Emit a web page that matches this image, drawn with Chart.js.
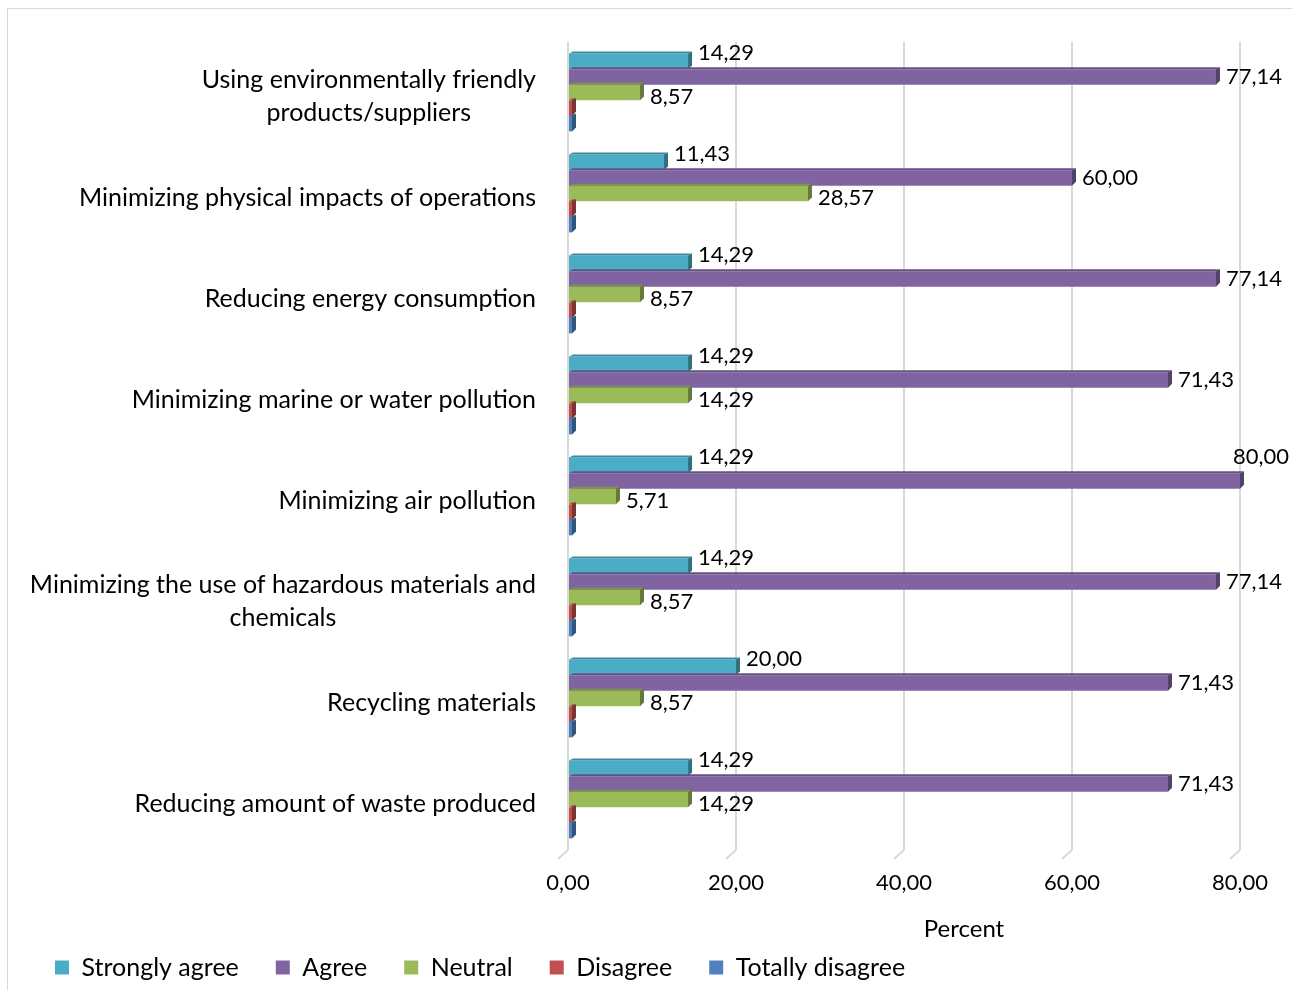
<!DOCTYPE html>
<html>
<head>
<meta charset="utf-8">
<script src="https://cdn.jsdelivr.net/npm/chart.js@4.4.0/dist/chart.umd.min.js"></script>
<style>
  body { margin: 0; background: #fff; }
  #wrap { width: 1292px; height: 990px; position: relative; }
</style>
</head>
<body>
<div id="wrap"><canvas id="chart"></canvas></div>
<script>
// Categories (top to bottom)
const categories = [
    ['Using environmentally friendly', 'products/suppliers'],
    'Minimizing physical impacts of operations',
    'Reducing energy consumption',
    'Minimizing marine or water pollution',
    'Minimizing air pollution',
    ['Minimizing the use of hazardous materials and', 'chemicals'],
    'Recycling materials',
    'Reducing amount of waste produced'
];

// Series values (percent)
const stronglyAgree = [14.29, 11.43, 14.29, 14.29, 14.29, 14.29, 20.00, 14.29];
const agree         = [77.14, 60.00, 77.14, 71.43, 80.00, 77.14, 71.43, 71.43];
const neutral       = [8.57, 28.57, 8.57, 14.29, 5.71, 8.57, 8.57, 14.29];
const disagree      = [0, 0, 0, 0, 0, 0, 0, 0];
const totallyDisagree = [0, 0, 0, 0, 0, 0, 0, 0];

const seriesNames = ['Strongly agree', 'Agree', 'Neutral', 'Disagree', 'Totally disagree'];
const seriesColors = ['#4BACC6', '#8064A2', '#9BBB59', '#C0504D', '#4F81BD'];

// x axis ticks
const xTicks = [0, 20, 40, 60, 80];

const FONT = 'Lato';

function fmt(v) {
    return v.toFixed(2).replace('.', ',');
}

function darker(hex, f) {
    let n = parseInt(hex.slice(1), 16);
    let r = Math.round(((n >> 16) & 255) * f);
    let g = Math.round(((n >> 8) & 255) * f);
    let b = Math.round((n & 255) * f);
    return 'rgb(' + r + ',' + g + ',' + b + ')';
}

// Frame, floor lines, fake 3D faces, value labels and category labels
const decorPlugin = {
    id: 'decor',
    beforeDraw(chart) {
        let ctx = chart.ctx;
        ctx.save();
        ctx.strokeStyle = '#d9d9d9';
        ctx.lineWidth = 1;
        ctx.strokeRect(7.5, 8.5, 1400, 1100);
        ctx.restore();
    },
    afterDatasetsDraw(chart) {
        let ctx = chart.ctx;
        let xScale = chart.scales.x;
        let yScale = chart.scales.y;
        let area = chart.chartArea;
        let d = 4;

        ctx.save();
        // little floor strokes under the gridlines
        ctx.strokeStyle = '#d9d9d9';
        ctx.lineWidth = 2;
        xTicks.forEach(t => {
            let px = xScale.getPixelForValue(t);
            ctx.beginPath();
            ctx.moveTo(px, area.bottom);
            ctx.lineTo(px - 10, area.bottom + 9);
            ctx.stroke();
        });

        // 3D faces on the bars
        chart.data.datasets.forEach((ds, di) => {
            let meta = chart.getDatasetMeta(di);
            meta.data.forEach(bar => {
                let top = bar.y - bar.height / 2;
                let bottom = bar.y + bar.height / 2;
                let x0 = bar.base;
                let x1 = bar.x;
                ctx.fillStyle = darker(seriesColors[di], 0.8);
                ctx.beginPath();
                ctx.moveTo(x0, top);
                ctx.lineTo(x0 + d, top - d / 2);
                ctx.lineTo(x1 + d, top - d / 2);
                ctx.lineTo(x1, top);
                ctx.closePath();
                ctx.fill();
                ctx.fillStyle = darker(seriesColors[di], 0.65);
                ctx.beginPath();
                ctx.moveTo(x1, top);
                ctx.lineTo(x1 + d, top - d / 2);
                ctx.lineTo(x1 + d, bottom - d);
                ctx.lineTo(x1, bottom);
                ctx.closePath();
                ctx.fill();
            });
        });

        // value labels
        ctx.fillStyle = '#000';
        ctx.font = '22px ' + FONT;
        ctx.textBaseline = 'middle';
        ctx.textAlign = 'left';
        let yOffsets = [-8, 0, 4];
        [0, 1, 2].forEach(di => {
            let meta = chart.getDatasetMeta(di);
            let vals = chart.data.datasets[di].data;
            meta.data.forEach((bar, i) => {
                let txt = fmt(vals[i]);
                let w = ctx.measureText(txt).width;
                let x = bar.x + 10;
                let y = bar.y + yOffsets[di];
                if (x + w > chart.width - 4) {
                    x = bar.x - 7;
                    y = bar.y - 24;
                }
                ctx.fillText(txt, x, y);
            });
        });

        // category labels, right aligned block, lines centred inside it
        ctx.font = '25px ' + FONT;
        ctx.textAlign = 'center';
        let right = area.left - 32;
        categories.forEach((c, i) => {
            let lines = Array.isArray(c) ? c : [c];
            let maxW = Math.max(...lines.map(l => ctx.measureText(l).width));
            let cx = right - maxW / 2;
            let cy = yScale.getPixelForValue(i) + 4;
            let lh = 33;
            lines.forEach((l, k) => {
                ctx.fillText(l, cx, cy + (k - (lines.length - 1) / 2) * lh);
            });
        });

        // axis title
        ctx.font = '24px ' + FONT;
        ctx.fillText('Percent', 964, 929);
        ctx.restore();
    }
};

let ctx = document.getElementById('chart');

let datasets = [stronglyAgree, agree, neutral, disagree, totallyDisagree].map((vals, i) => ({
    label: seriesNames[i],
    data: vals,
    backgroundColor: seriesColors[i],
    borderWidth: 0,
    minBarLength: i >= 3 ? 4 : 0,
    categoryPercentage: 0.77,
    barPercentage: 1.0
}));

let barChart = new Chart(ctx, {
    type: 'bar',
    data: {
        labels: categories,
        datasets: datasets
    },
    options: {
        indexAxis: 'y',
        responsive: true,
        maintainAspectRatio: false,
        animation: false,
        layout: {
            padding: { left: 18, right: 52, top: 42, bottom: 0 }
        },
        plugins: {
            legend: {
                position: 'bottom',
                align: 'start',
                labels: {
                    color: '#000',
                    boxWidth: 14,
                    boxHeight: 14,
                    padding: 37,
                    font: { family: FONT, size: 25 }
                }
            },
            tooltip: { enabled: false }
        },
        scales: {
            x: {
                min: 0,
                max: 80,
                afterFit: scale => { scale.height = 68; },
                border: { display: false },
                grid: {
                    color: '#d9d9d9',
                    lineWidth: 2,
                    drawTicks: false
                },
                ticks: {
                    stepSize: 20,
                    padding: 20,
                    color: '#000',
                    font: { family: FONT, size: 22 },
                    callback: v => fmt(v)
                }
            },
            y: {
                afterFit: scale => { scale.width = 550; },
                border: { display: false },
                grid: { display: false },
                ticks: { display: false }
            }
        }
    },
    plugins: [decorPlugin]
});
</script>
</body>
</html>
